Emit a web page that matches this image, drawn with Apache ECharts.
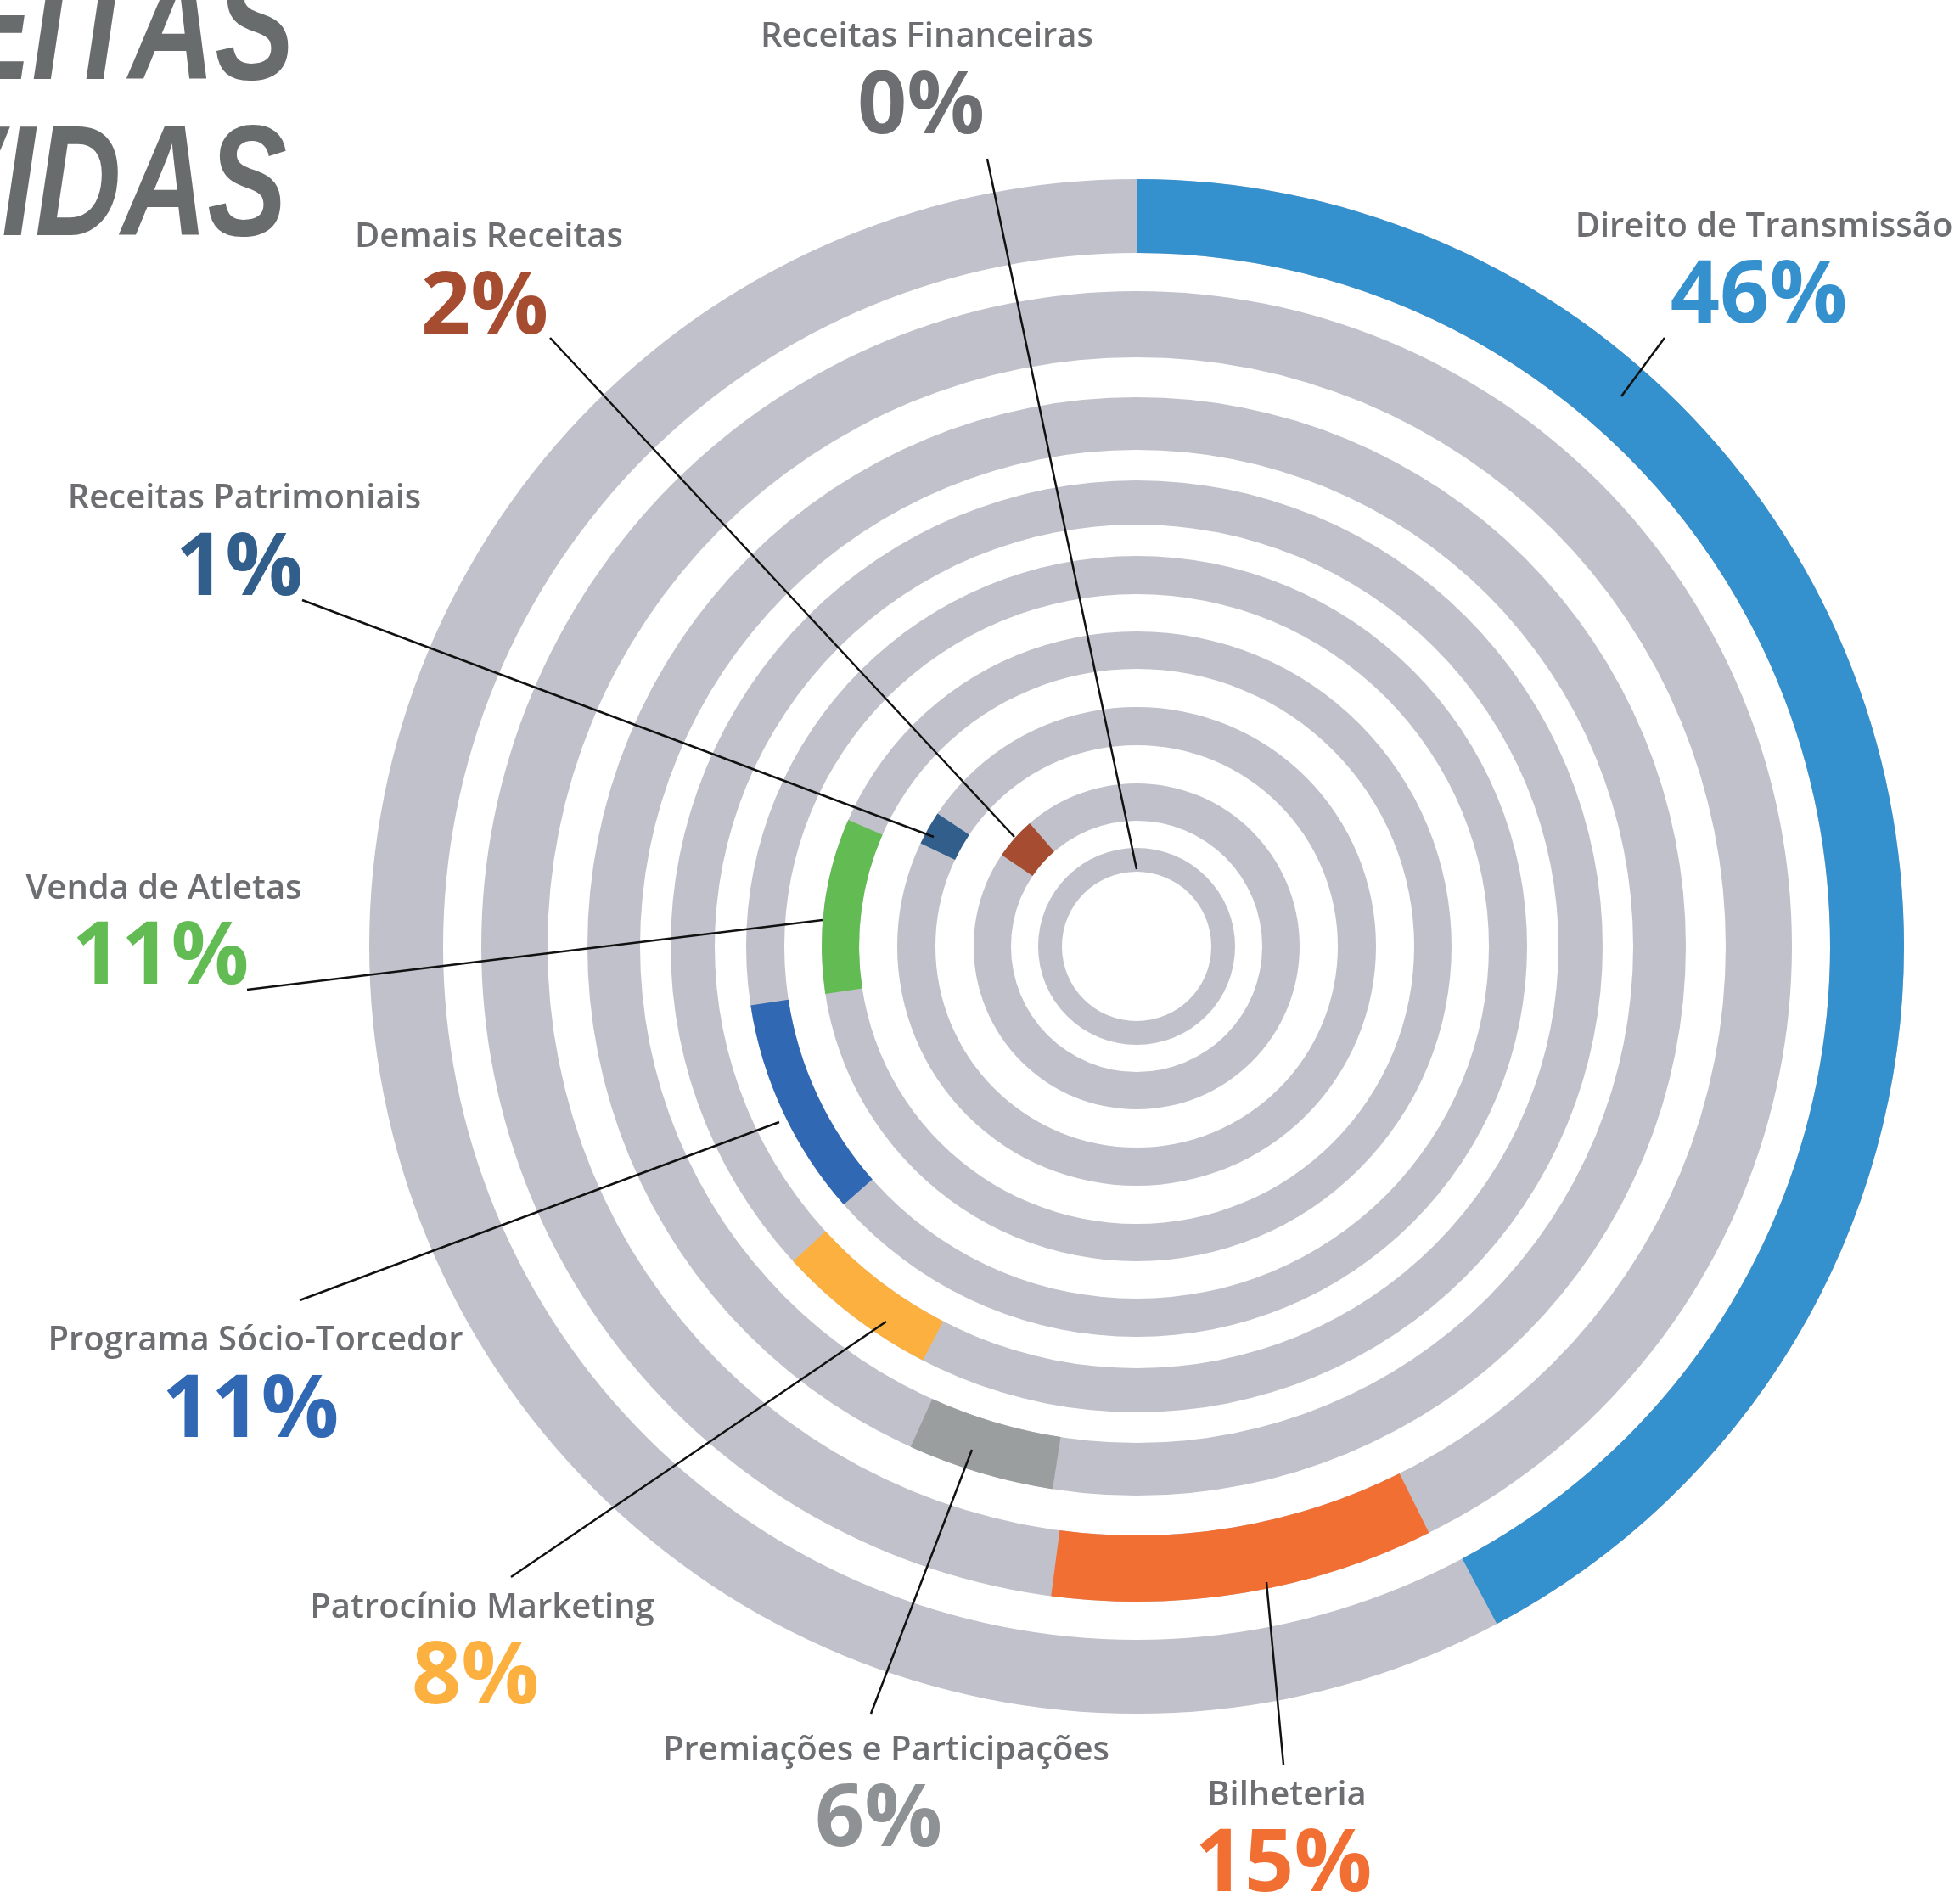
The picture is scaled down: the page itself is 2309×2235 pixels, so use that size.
<!DOCTYPE html>
<html>
<head>
<meta charset="utf-8">
<script src="https://cdn.jsdelivr.net/npm/echarts@6/dist/echarts.min.js"></script>
<style>
	html,body{margin:0;padding:0;background:#fff;}
	#main{width:2309px;height:2235px;}
</style>
</head>
<body>
<div id="main"></div>
<script>
// aneis de fora para dentro
var ringNames = ['Direito de Transmissão', 'Bilheteria', 'Premiações e Participações', 'Patrocínio Marketing',
	'Programa Sócio-Torcedor', 'Venda de Atletas', 'Receitas Patrimoniais', 'Demais Receitas', 'Receitas Financeiras'];
var pctValues = [46, 15, 6, 8, 11, 11, 1, 2, 0];
// inicio e fim de cada arco colorido, em graus (sentido horario a partir do topo)
var segStart = [0, 153.5, 188.8, 207.3, 228.6, 261.3, 295.5, 304.1, 0];
var segEnd = [152, 187.5, 204.3, 227.5, 261.3, 293.7, 303.7, 319, 0];

// layout
var cx = 1339, cy = 1115;
var ringInner = [817, 694, 585, 497, 415, 327, 237, 148, 88];
var ringOuter = [904, 772, 647, 549, 460, 371, 282, 192, 116];
var ringColors = ['#3590ce', '#f26f33', '#9a9e9f', '#fbb040', '#3068b3', '#62bb53', '#315e8b', '#a64d31', '#6d6e71'];
var pctColors = ['#3590ce', '#f26f33', '#8f9294', '#fbb040', '#3068b3', '#62bb53', '#315e8b', '#a64d31', '#6d6e71'];
var grey = '#c1c1cb';
var labelPos = [[2078, 268, 2072, 351], [1516, 2116, 1512, 2199], [1044, 2063, 1035, 2146], [568, 1895, 560, 1978],
	[301, 1580, 295, 1664], [193, 1048, 189, 1130], [288, 588, 282, 672], [576, 280, 571, 364], [1092, 44, 1085, 128]];
var leaders = [[1961, 398, 1910, 467], [1512, 2079, 1492, 1864], [1026, 2019, 1145, 1708], [602, 1858, 1044, 1557],
	[353, 1532, 918, 1322], [291, 1166, 969, 1084], [356, 707, 1100, 986], [648, 398, 1195, 986], [1163, 187, 1339, 1024]];

var series = [];
var graphics = [];
for (var i = 0; i < ringNames.length; i++) {
	series.push({
		type: 'pie', silent: true, animation: false,
		center: [cx, cy], radius: [ringInner[i], ringOuter[i]],
		label: {show: false}, labelLine: {show: false},
		itemStyle: {borderWidth: 0},
		data: [{value: 1, itemStyle: {color: grey}}]
	});
	if (segEnd[i] > segStart[i]) {
		series.push({
			type: 'pie', silent: true, animation: false,
			center: [cx, cy], radius: [ringInner[i], ringOuter[i]],
			startAngle: 90, clockwise: true,
			label: {show: false}, labelLine: {show: false},
			itemStyle: {borderWidth: 0},
			data: [
				{value: segStart[i], itemStyle: {color: 'rgba(0,0,0,0)'}},
				{value: segEnd[i] - segStart[i], name: ringNames[i], itemStyle: {color: ringColors[i]}},
				{value: 360 - segEnd[i], itemStyle: {color: 'rgba(0,0,0,0)'}}
			]
		});
	}
	var p = labelPos[i];
	graphics.push({
		type: 'text', x: p[0], y: p[1], z: 100,
		style: {text: ringNames[i], fill: '#6d6e71', font: '600 40px "Open Sans"',
			align: 'center', verticalAlign: 'middle', textAlign: 'center', textVerticalAlign: 'middle'}
	});
	graphics.push({
		type: 'text', x: p[2], y: p[3], z: 100,
		style: {text: pctValues[i] + '%', fill: pctColors[i], font: 'bold 102px "Open Sans"',
			align: 'center', verticalAlign: 'middle', textAlign: 'center', textVerticalAlign: 'middle'}
	});
	var l = leaders[i];
	graphics.push({
		type: 'line', z: 90,
		shape: {x1: l[0], y1: l[1], x2: l[2], y2: l[3]},
		style: {stroke: '#111', lineWidth: 2.5}
	});
}
// titulo cortado no canto
graphics.push({
	type: 'text', x: 347, y: 42, z: 100, scaleX: 0.76,
	style: {text: 'RECEITAS', fill: '#696c6d', font: 'italic bold 185px "Liberation Sans"',
		align: 'right', verticalAlign: 'middle', textAlign: 'right', textVerticalAlign: 'middle'}
});
graphics.push({
	type: 'text', x: 338, y: 226, z: 100, scaleX: 0.76,
	style: {text: 'DEVIDAS', fill: '#696c6d', font: 'italic bold 185px "Liberation Sans"',
		align: 'right', verticalAlign: 'middle', textAlign: 'right', textVerticalAlign: 'middle'}
});

var myChart = echarts.init(document.getElementById('main'));
myChart.setOption({
	animation: false,
	series: series,
	graphic: {elements: graphics}
});
</script>
</body>
</html>
